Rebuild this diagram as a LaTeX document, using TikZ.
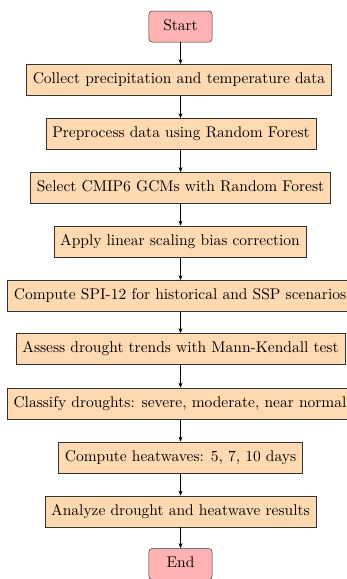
\documentclass[tikz,border=0pt]{standalone}
\usetikzlibrary{arrows.meta}
\begin{document}
\begin{tikzpicture}[x=1pt,y=1pt,
  every node/.style={font=\fontsize{10}{12}\selectfont, scale=1.55},
  procbox/.style={draw=black!80, line width=0.5pt, fill=orange!30, minimum height=20pt, inner xsep=4pt, text height=7pt, text depth=2pt},
  termbox/.style={draw=black!80, line width=0.5pt, fill=red!30, rounded corners=3.2pt, minimum height=20pt, minimum width=40.7pt, text height=7pt, text depth=2pt},
  conn/.style={-{Stealth[length=5pt,width=4pt]}, line width=0.7pt}]
\useasboundingbox (0,0) rectangle (346,-579);
\node[termbox] (start) at (180.5,-26.5) {Start};
\node[procbox] (b1) at (179,-80) {Collect precipitation and temperature data};
\node[procbox] (b2) at (181,-134) {Preprocess data using Random Forest};
\node[procbox] (b3) at (180.5,-188) {Select CMIP6 GCMs with Random Forest};
\node[procbox] (b4) at (180,-241.5) {Apply linear scaling bias correction};
\node[procbox] (b5) at (180,-296) {Compute SPI-12 for historical and SSP scenarios};
\node[procbox] (b6) at (180.5,-349) {Assess drought trends with Mann-Kendall test};
\node[procbox] (b7) at (180,-403.5) {Classify droughts: severe, moderate, near normal};
\node[procbox] (b8) at (180.5,-457.5) {Compute heatwaves: 5, 7, 10 days};
\node[procbox] (b9) at (180.5,-511.5) {Analyze drought and heatwave results};
\node[termbox] (end) at (180.5,-564) {End};
\foreach \a/\b in {start/b1,b1/b2,b2/b3,b3/b4,b4/b5,b5/b6,b6/b7,b7/b8,b8/b9,b9/end}
  \draw[conn] (\a.south -| start.south) -- (\b.north -| start.south);
\end{tikzpicture}
\end{document}
